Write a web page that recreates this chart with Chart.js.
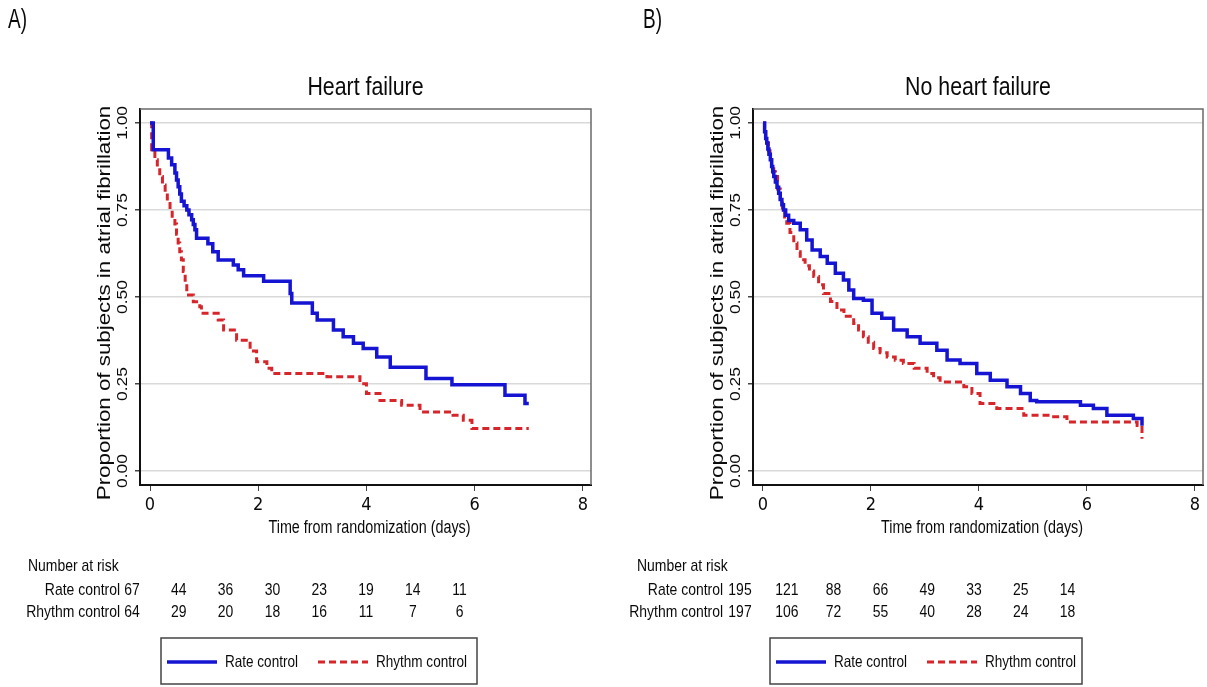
<!DOCTYPE html>
<html>
<head>
<meta charset="utf-8">
<script src="https://cdn.jsdelivr.net/npm/chart.js@4.4.0/dist/chart.umd.min.js"></script>
<style>
html,body{margin:0;padding:0;background:#fff;}
#wrap{position:relative;width:1207px;height:687px;overflow:hidden;}
canvas{position:absolute;top:0;}
</style>
</head>
<body>
<div id="wrap">
  <canvas id="hf" width="603" height="687" style="left:0px"></canvas>
  <canvas id="nohf" width="604" height="687" style="left:603px"></canvas>
</div>
<script>
// axis ticks and group names
const xTicks = [0, 2, 4, 6, 8];
const yTicks = [0, 0.25, 0.5, 0.75, 1];
const yTickLabels = ['0.00', '0.25', '0.50', '0.75', '1.00'];
const groups = ['Rate control', 'Rhythm control'];

// A) heart failure - Kaplan-Meier steps (time in days, proportion still in AF)
const hfRateT = [0, 0.06, 0.34, 0.40, 0.46, 0.49, 0.52, 0.55, 0.58, 0.63, 0.68, 0.72, 0.77, 0.80, 0.83, 0.86, 1.07, 1.16, 1.26, 1.54, 1.63, 1.73, 2.1, 2.59, 2.62, 3.0, 3.09, 3.39, 3.57, 3.76, 3.94, 4.19, 4.44, 5.1, 5.58, 6.56, 6.93, 7.0];
const hfRateS = [1.0, 0.923, 0.899, 0.88, 0.856, 0.836, 0.817, 0.796, 0.775, 0.762, 0.75, 0.736, 0.722, 0.708, 0.693, 0.669, 0.653, 0.63, 0.606, 0.592, 0.578, 0.561, 0.545, 0.51, 0.483, 0.453, 0.434, 0.405, 0.386, 0.367, 0.352, 0.328, 0.298, 0.266, 0.248, 0.218, 0.194, 0.194];
const hfRhyT = [0, 0.03, 0.09, 0.135, 0.18, 0.23, 0.28, 0.32, 0.37, 0.41, 0.46, 0.49, 0.52, 0.55, 0.58, 0.615, 0.65, 0.68, 0.8, 0.92, 0.95, 1.26, 1.36, 1.6, 1.85, 1.97, 2.16, 2.25, 3.27, 3.88, 4.0, 4.25, 4.65, 4.99, 5.6, 5.79, 5.95, 7.0];
const hfRhyS = [1.0, 0.923, 0.894, 0.87, 0.846, 0.822, 0.798, 0.774, 0.75, 0.726, 0.71, 0.68, 0.655, 0.63, 0.607, 0.573, 0.54, 0.506, 0.486, 0.472, 0.453, 0.434, 0.405, 0.376, 0.345, 0.314, 0.295, 0.28, 0.271, 0.251, 0.223, 0.203, 0.189, 0.17, 0.16, 0.146, 0.122, 0.122];

// B) no heart failure
const nhRateT = [0, 0.03, 0.05, 0.07, 0.09, 0.11, 0.136, 0.16, 0.18, 0.2, 0.23, 0.26, 0.29, 0.32, 0.35, 0.38, 0.42, 0.475, 0.57, 0.69, 0.81, 0.91, 1.06, 1.19, 1.34, 1.49, 1.59, 1.68, 1.86, 2.02, 2.2, 2.42, 2.67, 2.91, 3.22, 3.41, 3.65, 3.96, 4.21, 4.52, 4.77, 4.95, 5.07, 5.88, 6.12, 6.37, 6.86, 7.02];
const nhRateS = [1.0, 0.975, 0.955, 0.942, 0.925, 0.91, 0.894, 0.875, 0.86, 0.846, 0.83, 0.815, 0.798, 0.78, 0.765, 0.75, 0.735, 0.72, 0.712, 0.693, 0.664, 0.635, 0.616, 0.597, 0.568, 0.549, 0.52, 0.496, 0.491, 0.453, 0.439, 0.405, 0.386, 0.367, 0.347, 0.319, 0.309, 0.28, 0.261, 0.242, 0.223, 0.203, 0.199, 0.189, 0.18, 0.16, 0.151, 0.13];
const nhRhyT = [0, 0.03, 0.05, 0.07, 0.1, 0.13, 0.16, 0.2, 0.23, 0.27, 0.32, 0.36, 0.4, 0.44, 0.5, 0.57, 0.63, 0.69, 0.78, 0.86, 0.94, 1.03, 1.12, 1.25, 1.37, 1.5, 1.68, 1.77, 1.86, 1.95, 2.05, 2.17, 2.3, 2.45, 2.6, 2.8, 3.04, 3.16, 3.28, 3.72, 3.87, 4.02, 4.33, 4.83, 5.32, 5.63, 6.93, 7.02];
const nhRhyS = [1.0, 0.975, 0.955, 0.942, 0.92, 0.9, 0.88, 0.86, 0.846, 0.81, 0.77, 0.75, 0.73, 0.712, 0.685, 0.655, 0.63, 0.607, 0.59, 0.575, 0.559, 0.535, 0.51, 0.487, 0.463, 0.445, 0.424, 0.405, 0.386, 0.37, 0.352, 0.34, 0.328, 0.318, 0.309, 0.295, 0.28, 0.268, 0.256, 0.242, 0.223, 0.194, 0.18, 0.16, 0.156, 0.141, 0.131, 0.093];

// number at risk tables
const hfRiskRate = [67, 44, 36, 30, 23, 19, 14, 11];
const hfRiskRhy = [64, 29, 20, 18, 16, 11, 7, 6];
const nhRiskRate = [195, 121, 88, 66, 49, 33, 25, 14];
const nhRiskRhy = [197, 106, 72, 55, 40, 28, 24, 18];

const REG = "'Liberation Sans',Arial,sans-serif";
const BLUE = '#1414d2';
const RED = '#d6262b';
const INK = '#0a0a0a';

const toPts = (t, s) => t.map((v, i) => ({x: v, y: s[i]}));

// text squeezed (or stretched) along its own direction
const txt = (ctx, s, x, y, size, align, sx, rot) => {
    ctx.save();
    ctx.font = size + 'px ' + REG;
    ctx.fillStyle = INK;
    ctx.textAlign = align;
    ctx.textBaseline = 'middle';
    ctx.translate(x, y);
    if (rot) ctx.rotate(rot);
    ctx.scale(sx, 1);
    ctx.fillText(s, 0, 0);
    ctx.restore();
};

// frame, title, rotated y labels, risk table and legend box
const panelPlugin = {
    id: 'panel',
    afterDraw(chart, args, o) {
        const ctx = chart.ctx;
        const ca = chart.chartArea;
        const ys = chart.scales.y;
        const cx = (ca.left + ca.right) / 2;
        ctx.save();
        ctx.strokeStyle = '#6a6a6a';
        ctx.lineWidth = 1.5;
        ctx.beginPath();
        ctx.moveTo(ca.left, ca.top);
        ctx.lineTo(ca.right, ca.top);
        ctx.lineTo(ca.right, ca.bottom);
        ctx.stroke();
        ctx.restore();

        txt(ctx, o.title, cx, 88, 26, 'center', 0.82);
        txt(ctx, 'Time from randomization (days)', cx + 4, 528, 17.5, 'center', 0.82);

        // y tick labels, rotated like Stata
        yTicks.forEach((v, i) => {
            txt(ctx, yTickLabels[i], ca.left - 17, ys.getPixelForValue(v), 14.5, 'center', 1.2, -Math.PI / 2);
        });
        txt(ctx, 'Proportion of subjects in atrial fibrillation', ca.left - 35, (ca.top + ca.bottom) / 2 + 6, 18, 'center', 1.24, -Math.PI / 2);

        txt(ctx, o.letter, o.letterX, 20, 28, 'left', 0.68);

        // number at risk
        txt(ctx, 'Number at risk', o.natX, 566, 17, 'left', 0.82);
        txt(ctx, groups[0], o.lblRight, 590, 17, 'right', 0.82);
        txt(ctx, groups[1], o.lblRight, 612, 17, 'right', 0.82);
        o.riskRate.forEach((n, i) => txt(ctx, String(n), o.col0 + i * o.colStep, 590, 17, 'center', 0.82));
        o.riskRhy.forEach((n, i) => txt(ctx, String(n), o.col0 + i * o.colStep, 612, 17, 'center', 0.82));

        // legend box
        const bx = o.boxX, by = 638, bw = o.boxW, bh = 46, my = by + 24;
        ctx.save();
        ctx.strokeStyle = '#444';
        ctx.lineWidth = 1.5;
        ctx.strokeRect(bx, by, bw, bh);
        ctx.lineWidth = 3.5;
        ctx.strokeStyle = BLUE;
        ctx.beginPath();
        ctx.moveTo(bx + 6, my); ctx.lineTo(bx + 56, my);
        ctx.stroke();
        ctx.lineWidth = 3;
        ctx.strokeStyle = RED;
        ctx.setLineDash([7, 4]);
        ctx.beginPath();
        ctx.moveTo(bx + 157, my); ctx.lineTo(bx + 207, my);
        ctx.stroke();
        ctx.restore();
        txt(ctx, groups[0], bx + 64, my, 16.5, 'left', 0.82);
        txt(ctx, groups[1], bx + 215, my, 16.5, 'left', 0.82);
    }
};

const makeChart = (id, title, rateT, rateS, rhyT, rhyS, riskRate, riskRhy, lay) => {
    const ctx = document.getElementById(id).getContext('2d');
    return new Chart(ctx, {
        type: 'line',
        data: {
            datasets: [{
                label: groups[0],
                data: toPts(rateT, rateS),
                borderColor: BLUE,
                borderWidth: 3.5,
                stepped: 'before',
                pointRadius: 0,
                fill: false,
            }, {
                label: groups[1],
                data: toPts(rhyT, rhyS),
                borderColor: RED,
                borderWidth: 3,
                borderDash: [7, 4],
                stepped: 'before',
                pointRadius: 0,
                fill: false,
            }],
        },
        options: {
            responsive: false,
            animation: false,
            layout: {padding: {left: 0, right: lay.padRight, top: 109, bottom: 130}},
            plugins: {
                legend: {display: false},
                tooltip: {enabled: false},
                title: {display: false},
                panel: Object.assign({title: title, riskRate: riskRate, riskRhy: riskRhy}, lay),
            },
            scales: {
                x: {
                    type: 'linear',
                    min: -0.185,
                    max: 8.15,
                    afterBuildTicks: s => { s.ticks = xTicks.map(v => ({value: v})); },
                    afterFit: s => { s.height = 72; },
                    grid: {drawOnChartArea: false, tickLength: 6, tickColor: '#444'},
                    border: {color: '#111', width: 2},
                    ticks: {color: INK, font: {family: "'DejaVu Sans Condensed',sans-serif", size: 18}, padding: 4, maxRotation: 0},
                },
                y: {
                    type: 'linear',
                    min: -0.04,
                    max: 1.04,
                    afterBuildTicks: s => { s.ticks = yTicks.map(v => ({value: v})); },
                    afterFit: s => { s.width = lay.left; },
                    grid: {color: '#d9d9d9', lineWidth: 1.5, tickLength: 5, tickColor: '#444'},
                    border: {color: '#111', width: 2},
                    ticks: {display: false},
                },
            },
        },
        plugins: [panelPlugin],
    });
};

makeChart('hf', 'Heart failure', hfRateT, hfRateS, hfRhyT, hfRhyS, hfRiskRate, hfRiskRhy,
    {left: 140, padRight: 12, letter: 'A)', letterX: 8, natX: 28, lblRight: 120, col0: 132, colStep: 46.8, boxX: 161, boxW: 316});
makeChart('nohf', 'No heart failure', nhRateT, nhRateS, nhRhyT, nhRhyS, nhRiskRate, nhRiskRhy,
    {left: 150, padRight: 4, letter: 'B)', letterX: 40, natX: 34, lblRight: 120, col0: 137, colStep: 46.8, boxX: 167, boxW: 312});
</script>
</body>
</html>
